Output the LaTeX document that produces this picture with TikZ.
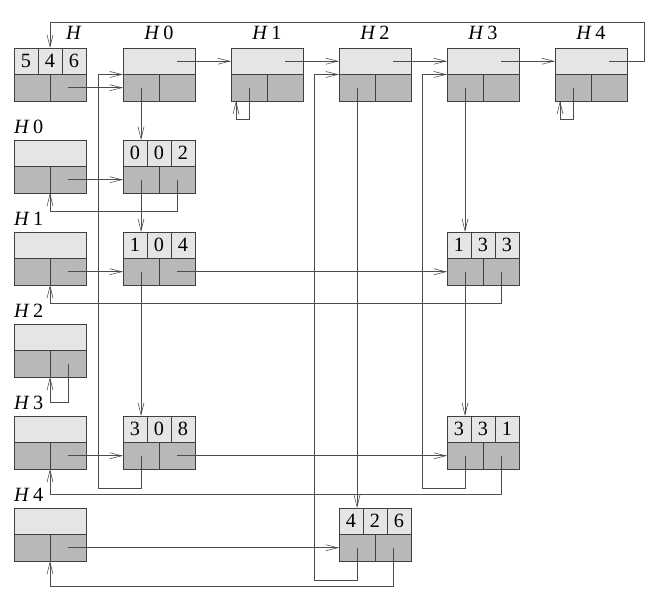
\documentclass[tikz,border=0pt]{standalone}
\usepackage{fontspec}
\setmainfont{Liberation Serif}
\usetikzlibrary{arrows.meta}

\tikzset{
  lite/.style={draw=black!75, fill=black!10, line width=0.6pt, inner sep=0pt, outer sep=0pt, minimum height=0.795cm, font=\LARGE},
  dark/.style={draw=black!75, fill=black!28, line width=0.6pt, inner sep=0pt, outer sep=0pt, minimum width=1.08cm, minimum height=0.795cm},
  ptr/.style={draw=black!70, line width=0.5pt, -{Straight Barb[length=3.6mm,width=1.8mm]}},
  lbl/.style={font=\LARGE, inner sep=0pt}
}

% header box: name, x, y
\newcommand{\hdbox}[3]{%
  \node[lite, minimum width=2.16cm, anchor=north west] (#1t) at (#2,#3) {};
  \node[dark, anchor=north west] (#1d) at (#1t.south west) {};
  \node[dark, anchor=north west] (#1r) at (#1d.north east) {};
}
% element box: name, x, y, row, col, value
\newcommand{\elbox}[6]{%
  \node[lite, minimum width=0.72cm, anchor=north west] (#1a) at (#2,#3) {#4};
  \node[lite, minimum width=0.72cm, anchor=north west] (#1b) at (#1a.north east) {#5};
  \node[lite, minimum width=0.72cm, anchor=north west] (#1c) at (#1b.north east) {#6};
  \node[dark, anchor=north west] (#1d) at (#1a.south west) {};
  \node[dark, anchor=north west] (#1r) at (#1d.north east) {};
}

\begin{document}
\begin{tikzpicture}[x=0.03cm, y=-0.03cm]
\useasboundingbox (0,0) rectangle (666,600);

% Head node
\elbox{H}{14}{48}{5}{4}{6}
\node[lbl] (lH) at (74,33) {\textit{H}};

% Column heads
\foreach \i in {0,...,4} {
  \hdbox{H\i}{123+108*\i}{48}
  \node[lbl] (lH\i) at (159+108*\i,33) {\textit{H}\,\i};
}

% Row heads
\foreach \i in {0,...,4} {
  \hdbox{R\i}{14}{140+92*\i}
  \node[lbl, anchor=west] (lR\i) at (14,127+92*\i) {\textit{H}\,\i};
}

% Elements
\elbox{m00}{123}{140}{0}{0}{2}
\elbox{m10}{123}{232}{1}{0}{4}
\elbox{m13}{447}{232}{1}{3}{3}
\elbox{m30}{123}{416}{3}{0}{8}
\elbox{m33}{447}{416}{3}{3}{1}
\elbox{m42}{339}{508}{4}{2}{6}

% Head list
\draw[ptr] (Hr.center) -- (H0d.west);
\foreach \i/\j in {0/1,1/2,2/3,3/4}
  \draw[ptr] (H\i r.center |- H\i t.center) -- (H\j t.west);
\draw[ptr] (H4r.center |- H4t.center) -- ++(35,0) -- ++(0,-38.5) -| (Hb.north);

% Columns
\draw[ptr] (H0d.center) -- (H0d.center |- m00a.north);
\draw[ptr] (m00d.center) -- (m00d.center |- m10a.north);
\draw[ptr] (m10d.center) -- (m10d.center |- m30a.north);
\draw[ptr] (m30d.center) -- ++(0,33) -- ++(-43,0) |- (H0t.south west);
\draw[ptr] (H1d.center) -- ++(0,32) -| ([xshift=-0.39cm]H1d.south);
\draw[ptr] (H2d.center) -- (H2d.center |- m42a.north);
\draw[ptr] (m42d.center) -- ++(0,33) -- ++(-43,0) |- (H2t.south west);
\draw[ptr] (H3d.center) -- (H3d.center |- m13a.north);
\draw[ptr] (m13d.center) -- (m13d.center |- m33a.north);
\draw[ptr] (m33d.center) -- ++(0,33) -- ++(-43,0) |- (H3t.south west);
\draw[ptr] (H4d.center) -- ++(0,32) -| ([xshift=-0.39cm]H4d.south);

% Rows
\draw[ptr] (R0r.center) -- (m00d.west);
\draw[ptr] (m00r.center) -- ++(0,32) -| (R0d.south east);
\draw[ptr] (R1r.center) -- (m10d.west);
\draw[ptr] (m10r.center) -- (m13d.west);
\draw[ptr] (m13r.center) -- ++(0,32) -| (R1d.south east);
\draw[ptr] (R2r.center) -- ++(0,39) -| (R2d.south east);
\draw[ptr] (R3r.center) -- (m30d.west);
\draw[ptr] (m30r.center) -- (m33d.west);
\draw[ptr] (m33r.center) -- ++(0,39) -| (R3d.south east);
\draw[ptr] (R4r.center) -- (m42d.west);
\draw[ptr] (m42r.center) -- ++(0,39) -| (R4d.south east);
\end{tikzpicture}
\end{document}
